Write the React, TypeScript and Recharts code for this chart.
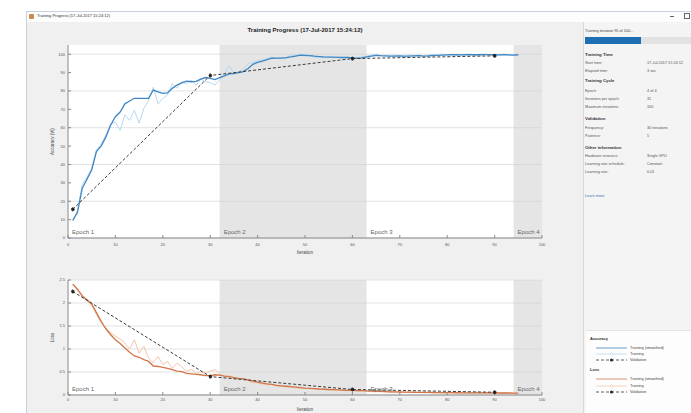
import React from "react";
import { LineChart, Line, XAxis, YAxis, CartesianGrid, ReferenceArea } from "recharts";

const FONT = "'Liberation Sans', Arial, sans-serif";

// iteration numbers
const iterations = [
  1, 2, 3, 4, 5, 6, 7, 8, 9, 10, 11, 12, 13, 14, 15, 16, 17, 18, 19, 20,
  21, 22, 23, 24, 25, 26, 27, 28, 29, 30, 31, 32, 33, 34, 35, 36, 37, 38, 39, 40,
  41, 42, 43, 44, 45, 46, 47, 48, 49, 50, 51, 52, 53, 54, 55, 56, 57, 58, 59, 60,
  61, 62, 63, 64, 65, 66, 67, 68, 69, 70, 71, 72, 73, 74, 75, 76, 77, 78, 79, 80,
  81, 82, 83, 84, 85, 86, 87, 88, 89, 90, 91, 92, 93, 94, 95,
];

const accSmoothed = [
  9.5, 14, 27, 32, 37, 47, 50, 55, 61.5, 66, 68.5, 73, 74.5, 76, 76, 76, 76, 80.5, 79.5, 78.7,
  79, 81.4, 83.2, 84.4, 85.3, 85, 85.2, 86.4, 87.3, 86.8, 86.2, 87.2, 88.2, 89.3, 89.5, 90, 90.5, 92.2, 94.5, 95.6,
  96.2, 97, 97.8, 97.9, 97.9, 98.1, 98.5, 99, 99.5, 99.4, 99.2, 98.9, 98.7, 98.5, 98.4, 98.4, 98.3, 98.2, 98.2, 98,
  97.8, 98, 98.5, 99, 99.4, 99.2, 99.1, 99, 99, 99.1, 98.9, 99, 99.1, 99.2, 99, 99.1, 99.3, 99.4, 99.5, 99.6,
  99.7, 99.7, 99.6, 99.7, 99.8, 99.7, 99.7, 99.8, 99.8, 99.7, 99.6, 99.7, 99.6, 99.5, 99.7,
];

const accTraining = [
  9.5, 15, 29, 33, 38, 48, 51, 56, 62, 63, 58.5, 67, 64, 69.5, 62.5, 70.5, 75, 82, 73, 76,
  77.8, 84, 81.5, 85, 84, 86, 83, 86.5, 85, 84.5, 83.2, 86, 89, 94, 89.5, 90.5, 91.7, 95, 95.5, 96.4,
  97, 97.5, 98.5, 97.5, 98, 97.5, 99.5, 99.5, 100, 99, 99, 98.5, 98.5, 98, 98.5, 98, 98.5, 98, 98.5, 97.5,
  98, 98.5, 99, 99.5, 100, 99, 99, 99, 99.5, 99, 98.5, 99.5, 99, 99.5, 99, 99.5, 99.5, 99.5, 100, 99.5,
  100, 99.5, 99.5, 100, 100, 99.5, 100, 100, 99.5, 99.5, 99.5, 100, 99.5, 99.5, 100,
];

const lossSmoothed = [
  2.41, 2.3, 2.16, 2.07, 1.98, 1.79, 1.6, 1.44, 1.31, 1.2, 1.12, 1.02, 0.93, 0.85, 0.82, 0.77, 0.73, 0.63, 0.62, 0.6,
  0.58, 0.55, 0.52, 0.51, 0.47, 0.46, 0.45, 0.44, 0.42, 0.42, 0.44, 0.43, 0.41, 0.4, 0.38, 0.36, 0.35, 0.33, 0.3, 0.28,
  0.26, 0.24, 0.23, 0.21, 0.2, 0.19, 0.18, 0.17, 0.16, 0.15, 0.145, 0.14, 0.13, 0.125, 0.12, 0.115, 0.11, 0.105, 0.1, 0.1,
  0.097, 0.093, 0.09, 0.085, 0.08, 0.077, 0.074, 0.07, 0.068, 0.065, 0.063, 0.061, 0.06, 0.058, 0.057, 0.055, 0.054, 0.053, 0.052, 0.05,
  0.05, 0.049, 0.048, 0.048, 0.047, 0.047, 0.046, 0.046, 0.045, 0.045, 0.044, 0.043, 0.043, 0.042, 0.041,
];

const lossTraining = [
  2.41, 2.28, 2.12, 2.05, 1.95, 1.75, 1.57, 1.45, 1.35, 1.28, 1.22, 1.13, 1.0, 1.2, 0.91, 1.06, 0.8, 0.7, 0.84, 0.66,
  0.73, 0.58, 0.69, 0.62, 0.51, 0.56, 0.47, 0.51, 0.47, 0.52, 0.55, 0.46, 0.4, 0.42, 0.36, 0.34, 0.36, 0.31, 0.27, 0.27,
  0.24, 0.22, 0.23, 0.19, 0.19, 0.18, 0.16, 0.16, 0.15, 0.14, 0.14, 0.13, 0.12, 0.12, 0.11, 0.11, 0.1, 0.1, 0.09, 0.1,
  0.09, 0.09, 0.08, 0.07, 0.07, 0.07, 0.07, 0.06, 0.06, 0.06, 0.06, 0.055, 0.055, 0.055, 0.05, 0.05, 0.05, 0.05, 0.045, 0.045,
  0.045, 0.045, 0.045, 0.045, 0.04, 0.045, 0.04, 0.04, 0.04, 0.04, 0.04, 0.04, 0.04, 0.04, 0.035,
];

// validation runs every 30 iterations
const valIterations = [1, 30, 60, 90];
const valAccuracy = [15.6, 88.4, 97.6, 99.1];
const valLoss = [2.25, 0.4, 0.12, 0.06];

const xTicks = [0, 10, 20, 30, 40, 50, 60, 70, 80, 90, 100];
const accTicks = [0, 10, 20, 30, 40, 50, 60, 70, 80, 90, 100];
const lossTicks = [0, 0.5, 1, 1.5, 2, 2.5];

const epochs = [
  { name: "Epoch 1", from: 0, to: 32, shaded: false },
  { name: "Epoch 2", from: 32, to: 63, shaded: true },
  { name: "Epoch 3", from: 63, to: 94, shaded: false },
  { name: "Epoch 4", from: 94, to: 100, shaded: true },
];

const accData = iterations.map((it, i) => {
  const v = valIterations.indexOf(it);
  return { it, smooth: accSmoothed[i], raw: accTraining[i], val: v >= 0 ? valAccuracy[v] : null };
});
const lossData = iterations.map((it, i) => {
  const v = valIterations.indexOf(it);
  return { it, smooth: lossSmoothed[i], raw: lossTraining[i], val: v >= 0 ? valLoss[v] : null };
});

const infoHeads = [
  { y: 55, text: "Training Time" },
  { y: 81, text: "Training Cycle" },
  { y: 119, text: "Validation" },
  { y: 148, text: "Other information" },
];
const infoRows = [
  { y: 63, label: "Start time:", value: "17-Jul-2017 15:24:12" },
  { y: 70.5, label: "Elapsed time:", value: "3 sec" },
  { y: 91, label: "Epoch:", value: "4 of 4" },
  { y: 99, label: "Iterations per epoch:", value: "31" },
  { y: 106.7, label: "Maximum iterations:", value: "100" },
  { y: 128, label: "Frequency:", value: "30 iterations" },
  { y: 136, label: "Patience:", value: "5" },
  { y: 156, label: "Hardware resource:", value: "Single GPU" },
  { y: 164, label: "Learning rate schedule:", value: "Constant" },
  { y: 172, label: "Learning rate:", value: "0.01" },
];

function Progress({ data, yDomain, yTicks, yLabel, top, height, marginTop, xHeight, tickGap, labelOffset, dark, light }: any) {
  return (
    <div style={{ position: "absolute", left: 27, top }}>
      <LineChart width={556} height={height} data={data} margin={{ top: marginTop, right: 41, bottom: 0, left: 0 }}>
        <CartesianGrid vertical={false} stroke="#e2e2e2" fill="#ffffff" horizontalValues={yTicks} />
        {epochs.map((e) => (
          <ReferenceArea
            key={e.name}
            x1={e.from}
            x2={e.to}
            fill={e.shaded ? "#cfcfcf" : "#ffffff"}
            fillOpacity={e.shaded ? 0.55 : 0}
            stroke="none"
            label={{ value: e.name, position: "insideBottomLeft", offset: 4, fontSize: 6, fill: "#666", fontFamily: FONT }}
          />
        ))}
        <XAxis
          dataKey="it"
          type="number"
          domain={[0, 100]}
          ticks={xTicks}
          height={xHeight}
          tickSize={-3}
          tickMargin={tickGap}
          stroke="#8a8a8a"
          tick={{ fontSize: 4, fill: "#555", fontFamily: FONT }}
          label={{ value: "Iteration", position: "insideBottom", offset: labelOffset, fontSize: 4.5, fill: "#444", fontFamily: FONT }}
        />
        <YAxis
          type="number"
          domain={yDomain}
          ticks={yTicks}
          width={41}
          tickSize={-3}
          tickMargin={6}
          stroke="#8a8a8a"
          allowDataOverflow
          tick={{ fontSize: 4, fill: "#555", fontFamily: FONT }}
          label={{ value: yLabel, angle: -90, position: "insideLeft", offset: 25, fontSize: 4.5, fill: "#444", fontFamily: FONT, style: { textAnchor: "middle" } }}
        />
        <Line dataKey="raw" stroke={light} strokeWidth={1} dot={false} isAnimationActive={false} type="linear" />
        <Line dataKey="smooth" stroke={dark} strokeWidth={1.3} dot={false} isAnimationActive={false} type="linear" />
        <Line
          dataKey="val"
          stroke="#3a3a3a"
          strokeWidth={1}
          strokeDasharray="3 2"
          connectNulls
          dot={{ r: 1.5, fill: "#222", stroke: "#222" }}
          isAnimationActive={false}
          type="linear"
        />
      </LineChart>
    </div>
  );
}

function LegendRow({ y, color, kind, text }: any) {
  return (
    <>
      <svg style={{ position: "absolute", left: 596, top: y - 3 }} width={31} height={6}>
        {kind === "val" ? (
          <>
            <line x1={0} y1={3} x2={31} y2={3} stroke="#333" strokeWidth={0.8} strokeDasharray="3 2" />
            <circle cx={15.5} cy={3} r={1.5} fill="#222" />
          </>
        ) : (
          <>
            <line x1={0} y1={3} x2={31} y2={3} stroke={color} strokeWidth={0.8} />
            {kind === "raw" && <circle cx={15.5} cy={3} r={1.3} fill="#fff" stroke={color} strokeWidth={0.6} />}
          </>
        )}
      </svg>
      <div style={{ position: "absolute", left: 630, top: y - 3, height: 6, lineHeight: "6px", fontSize: 3.8, color: "#444" }}>{text}</div>
    </>
  );
}

export default function App() {
  const accDark = "#3f86c4";
  const accLight = "#b7d8ee";
  const lossDark = "#d0764a";
  const lossLight = "#f2c6aa";
  return (
    <div style={{ position: "absolute", left: 0, top: 0, width: 691, height: 413, background: "#fff", overflow: "hidden", fontFamily: FONT }}>
      {/* window */}
      <div style={{ position: "absolute", left: 26, top: 11, width: 700, height: 420, border: "1px solid #c9d2dc", background: "#f0f0f0" }} />
      <div style={{ position: "absolute", left: 27, top: 12, width: 700, height: 10, background: "#fdfdfd" }} />
      <div style={{ position: "absolute", left: 29, top: 14, width: 5, height: 5, background: "#c98a4a", borderRadius: 1 }} />
      <div style={{ position: "absolute", left: 37, top: 13, height: 6, lineHeight: "6px", fontSize: 4, color: "#333" }}>
        Training Progress (17-Jul-2017 15:24:12)
      </div>
      <div style={{ position: "absolute", left: 670, top: 16, width: 4, height: 0.8, background: "#666" }} />
      <div style={{ position: "absolute", left: 684, top: 13, width: 4, height: 4, border: "0.8px solid #666" }} />

      <div style={{ position: "absolute", left: 0, top: 27, width: 610, textAlign: "center", fontSize: 6, fontWeight: "bold", color: "#222" }}>
        Training Progress (17-Jul-2017 15:24:12)
      </div>

      <Progress data={accData} yDomain={[0, 105]} yTicks={accTicks} yLabel="Accuracy (%)" top={22} height={236} marginTop={23} xHeight={20} tickGap={8} labelOffset={4} dark={accDark} light={accLight} />
      <Progress data={lossData} yDomain={[0, 2.5]} yTicks={lossTicks} yLabel="Loss" top={258} height={155} marginTop={22} xHeight={18} tickGap={6} labelOffset={2} dark={lossDark} light={lossLight} />

      {/* side panel */}
      <div style={{ position: "absolute", left: 583, top: 22, width: 110, height: 400, background: "#f4f4f4", borderLeft: "1px solid #d8d8d8" }} />
      <div style={{ position: "absolute", left: 585, top: 28, height: 6, lineHeight: "6px", fontSize: 3.8, color: "#444" }}>Training iteration 95 of 100...</div>
      <div style={{ position: "absolute", left: 585, top: 37, width: 106, height: 7, background: "#e2e2e2" }} />
      <div style={{ position: "absolute", left: 585, top: 37, width: 56, height: 7, background: "#1d6fb4" }} />
      {infoHeads.map((h) => (
        <div key={h.text} style={{ position: "absolute", left: 585, top: h.y - 3, height: 6, lineHeight: "6px", fontSize: 4.3, fontWeight: "bold", color: "#333" }}>
          {h.text}
        </div>
      ))}
      {infoRows.map((r) => (
        <React.Fragment key={r.label}>
          <div style={{ position: "absolute", left: 585, top: r.y - 3, height: 6, lineHeight: "6px", fontSize: 3.8, color: "#555" }}>{r.label}</div>
          <div style={{ position: "absolute", left: 647, top: r.y - 3, height: 6, lineHeight: "6px", fontSize: 3.8, color: "#555" }}>{r.value}</div>
        </React.Fragment>
      ))}
      <div style={{ position: "absolute", left: 585, top: 193, height: 6, lineHeight: "6px", fontSize: 3.8, color: "#3b6fb5" }}>Learn more</div>

      {/* legend */}
      <div style={{ position: "absolute", left: 586, top: 330, width: 110, height: 90, background: "#fdfdfd", borderTop: "1px solid #e4e4e4" }} />
      <div style={{ position: "absolute", left: 590, top: 336, height: 6, lineHeight: "6px", fontSize: 4, fontWeight: "bold", color: "#333" }}>Accuracy</div>
      <LegendRow y={348} color={accDark} kind="smooth" text="Training (smoothed)" />
      <LegendRow y={354} color={accLight} kind="raw" text="Training" />
      <LegendRow y={360} kind="val" text="Validation" />
      <div style={{ position: "absolute", left: 590, top: 367, height: 6, lineHeight: "6px", fontSize: 4, fontWeight: "bold", color: "#333" }}>Loss</div>
      <LegendRow y={379} color={lossDark} kind="smooth" text="Training (smoothed)" />
      <LegendRow y={385.5} color={lossLight} kind="raw" text="Training" />
      <LegendRow y={392} kind="val" text="Validation" />
    </div>
  );
}
